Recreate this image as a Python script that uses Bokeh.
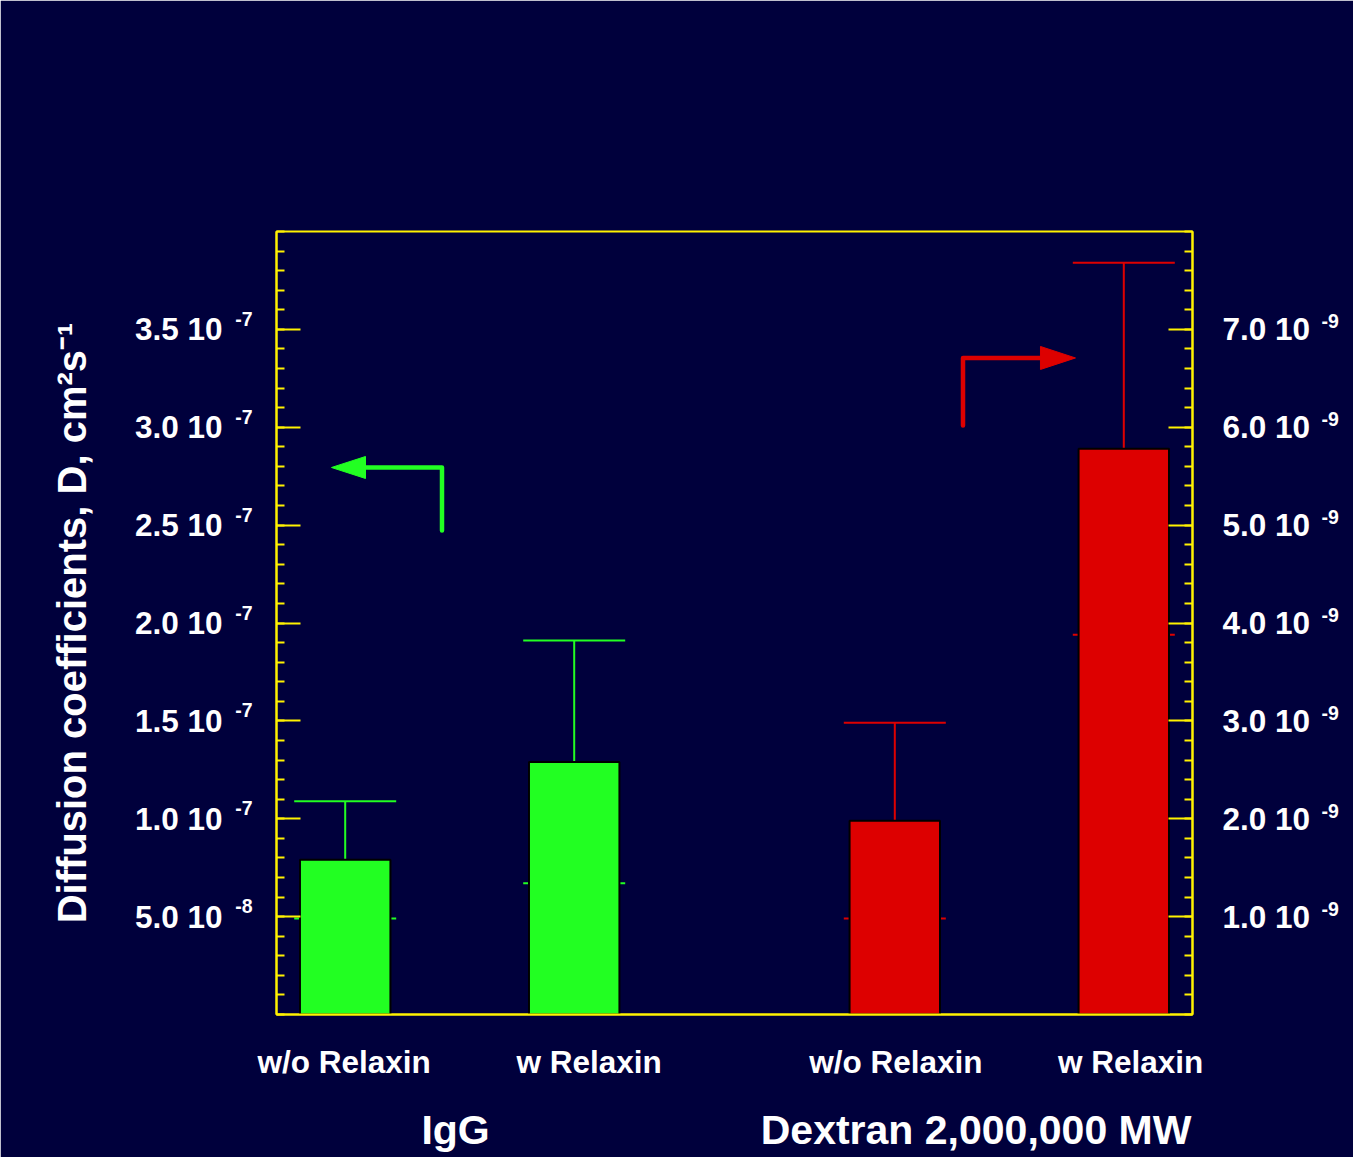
import numpy as np
from bokeh.plotting import figure
from bokeh.models import LinearAxis, Range1d, FixedTicker, ColumnDataSource
from bokeh.embed import file_html
from bokeh.resources import INLINE

# ---------------- data ----------------
group_names = ["IgG", "Dextran 2,000,000 MW"]
condition_names = ["w/o Relaxin", "w Relaxin", "w/o Relaxin", "w Relaxin"]
igg_D = [0.79e-7, 1.29e-7]          # cm^2/s, left axis
igg_sd = [0.30e-7, 0.62e-7]
dextran_D = [1.98e-9, 5.78e-9]      # cm^2/s, right axis
dextran_sd = [1.0e-9, 1.9e-9]

LEFT_UNIT = 1e-7
RIGHT_UNIT = 1e-9
left_tick_pos = [0.5, 1.0, 1.5, 2.0, 2.5, 3.0, 3.5]
left_tick_text = ["5.0 10", "1.0 10", "1.5 10", "2.0 10", "2.5 10", "3.0 10", "3.5 10"]
left_tick_exp = ["-8", "-7", "-7", "-7", "-7", "-7", "-7"]
right_tick_pos = [1, 2, 3, 4, 5, 6, 7]
right_tick_text = ["1.0 10", "2.0 10", "3.0 10", "4.0 10", "5.0 10", "6.0 10", "7.0 10"]
right_tick_exp = ["-9", "-9", "-9", "-9", "-9", "-9", "-9"]
y_label = "Diffusion coefficients, D, cm\u00b2s\u207b\u00b9"

# ---------------- layout / style ----------------
NAVY = "#00003C"
YELLOW = "#FFF200"
GREEN = "#22FF22"
RED = "#DD0000"
FONT = "Liberation Sans"

W, H = 1353, 1157
FL, FR, FT, FB = 276, 161, 231, 143
X_MAX, YL_MAX, YR_MAX = 4.0, 4.0, 8.0
PX_X = (W - FL - FR) / X_MAX
PX_Y = (H - FT - FB) / YL_MAX          # px per left unit
PX_YR = (H - FT - FB) / YR_MAX         # px per right unit
EXP_RAISE_L = 10.5                     # px, superscript raise
EXP_RAISE_R = 8.0

bar_x = {"igg": [0.3, 1.3], "dex": [2.7, 3.7]}
cond_label_x = [0.295, 1.365, 2.705, 3.73]
group_label_x = [0.782, 3.055]
BAR_W = 0.395
CAP_HALF = 0.2227

p = figure(width=W, height=H, x_range=Range1d(0, X_MAX), y_range=Range1d(0, YL_MAX),
           x_axis_type=None, y_axis_type=None, output_backend="svg", toolbar_location=None,
           min_border_left=FL, min_border_right=FR, min_border_top=FT, min_border_bottom=FB,
           background_fill_color=NAVY, border_fill_color=NAVY,
           outline_line_color=YELLOW, outline_line_width=2)
p.extra_y_ranges = {
    "dex": Range1d(0, YR_MAX),
    "lexp": Range1d(-EXP_RAISE_L / PX_Y, YL_MAX - EXP_RAISE_L / PX_Y),
    "rexp": Range1d(-EXP_RAISE_R / PX_YR, YR_MAX - EXP_RAISE_R / PX_YR),
}


def make_axis(ticks, labels, size, range_name="default", minor=None, line=True, ticks_in=False):
    ax = LinearAxis(y_range_name=range_name) if range_name != "default" else LinearAxis()
    ax.ticker = FixedTicker(ticks=ticks, minor_ticks=minor or [])
    ax.major_label_overrides = {t: s for t, s in zip(ticks, labels)}
    ax.axis_line_color = YELLOW if line else None
    ax.axis_line_width = 2
    ax.major_tick_out = 0
    ax.minor_tick_out = 0
    if ticks_in:
        ax.major_tick_in = 24
        ax.minor_tick_in = 8
        ax.major_tick_line_color = YELLOW
        ax.minor_tick_line_color = YELLOW
        ax.major_tick_line_width = 2
        ax.minor_tick_line_width = 2
    else:
        ax.major_tick_in = 0
        ax.minor_tick_in = 0
        ax.major_tick_line_color = None
        ax.minor_tick_line_color = None
    ax.major_label_text_color = "white"
    ax.major_label_text_font = FONT
    ax.major_label_text_font_style = "bold"
    ax.major_label_text_font_size = size
    return ax


# ---- left side: ticks, exponents, mantissas + axis title ----
left_minor = [round(v, 2) for v in np.arange(0, YL_MAX + 0.001, 0.1)]
yl_ticks = make_axis(left_tick_pos, [""] * len(left_tick_pos), "1px", minor=left_minor, ticks_in=True)
yl_ticks.major_label_standoff = 0
p.add_layout(yl_ticks, "left")

yl_exp = make_axis(left_tick_pos, left_tick_exp, "19.5px", range_name="lexp", line=False)
yl_exp.major_label_standoff = 24
p.add_layout(yl_exp, "left")

yl = make_axis(left_tick_pos, left_tick_text, "31.5px", line=False)
yl.major_label_standoff = 10
yl.axis_label = y_label
yl.axis_label_text_color = "white"
yl.axis_label_text_font = FONT
yl.axis_label_text_font_style = "bold"
yl.axis_label_text_font_size = "40px"
yl.axis_label_standoff = 38
p.add_layout(yl, "left")

# ---- right side: ticks + mantissas, exponents ----
right_minor = [round(v, 2) for v in np.arange(0, YR_MAX + 0.001, 0.2)]
yr = make_axis(right_tick_pos, right_tick_text, "31.5px", range_name="dex",
               minor=right_minor, ticks_in=True)
yr.major_label_standoff = 30
p.add_layout(yr, "right")

yr_exp = make_axis(right_tick_pos, right_tick_exp, "19.5px", range_name="rexp", line=False)
yr_exp.major_label_standoff = 8
p.add_layout(yr_exp, "right")

# ---- bottom: condition labels, then group labels ----
xb = make_axis(cond_label_x, condition_names, "31.5px")
xb.major_label_standoff = 29
p.add_layout(xb, "below")

xg = make_axis(group_label_x, group_names, "41px", line=False)
xg.major_label_standoff = 24
p.add_layout(xg, "below")


def draw_series(key, means, sds, unit, color, range_name):
    xs = bar_x[key]
    m = np.array(means) / unit
    s = np.array(sds) / unit
    lo, hi = m - s, m + s
    src = ColumnDataSource(dict(x=xs, m=m, lo=lo, hi=hi,
                                x0=[x - CAP_HALF for x in xs], x1=[x + CAP_HALF for x in xs]))
    p.segment(x0="x", y0="lo", x1="x", y1="hi", source=src, line_color=color, line_width=2,
              y_range_name=range_name)
    p.segment(x0="x0", y0="hi", x1="x1", y1="hi", source=src, line_color=color, line_width=2,
              y_range_name=range_name)
    p.segment(x0="x0", y0="lo", x1="x1", y1="lo", source=src, line_color=color, line_width=2,
              y_range_name=range_name)
    p.vbar(x="x", top="m", bottom=0, width=BAR_W, source=src, fill_color=color,
           line_color="black", line_width=2, y_range_name=range_name)


draw_series("igg", igg_D, igg_sd, LEFT_UNIT, GREEN, "default")
draw_series("dex", dextran_D, dextran_sd, RIGHT_UNIT, RED, "dex")


# axis-pointing arrows (annotation geometry, left-axis units)
def elbow_arrow(x_v, y_start, y_corner, x_tip, head_len, head_half, color):
    direction = 1 if x_tip > x_v else -1
    x_base = x_tip - direction * head_len / PX_X
    p.line([x_v, x_v, x_base], [y_start, y_corner, y_corner], line_color=color,
           line_width=4.5, line_join="round", line_cap="round")
    p.patch([x_tip, x_base, x_base], [y_corner, y_corner + head_half / PX_Y,
                                       y_corner - head_half / PX_Y],
            fill_color=color, line_color=color, line_width=1)


elbow_arrow(0.7227, 2.4726, 2.7944, 0.2402, 34, 11, GREEN)
elbow_arrow(2.9978, 3.009, 3.354, 3.489, 35, 11.5, RED)

open("out.html", "w").write(file_html(p, INLINE))
